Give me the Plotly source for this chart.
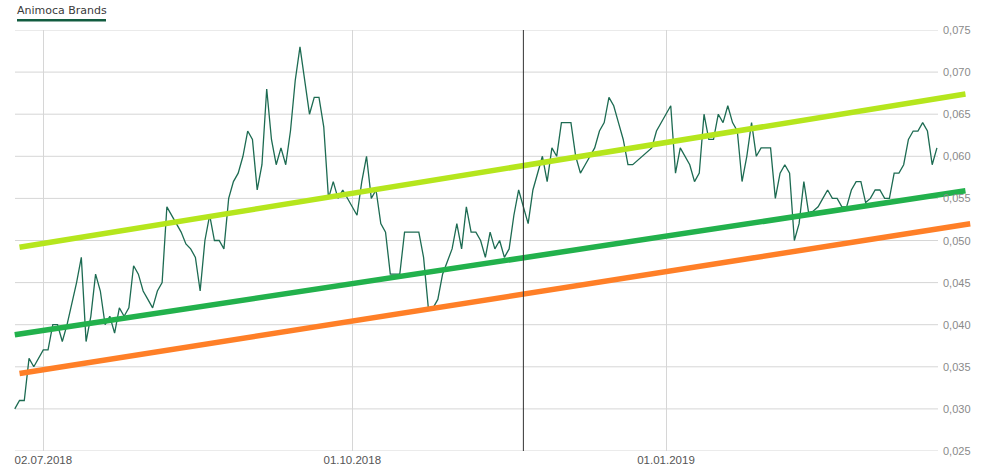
import plotly.graph_objects as go

# ---- data ----
dates = [
    "2018-06-22", "2018-06-25", "2018-06-26", "2018-06-27", "2018-06-28", "2018-06-29",
    "2018-07-02", "2018-07-03", "2018-07-04", "2018-07-05", "2018-07-06",
    "2018-07-09", "2018-07-10", "2018-07-11", "2018-07-12", "2018-07-13",
    "2018-07-16", "2018-07-17", "2018-07-18", "2018-07-19", "2018-07-20",
    "2018-07-23", "2018-07-24", "2018-07-25", "2018-07-26", "2018-07-27",
    "2018-07-30", "2018-07-31", "2018-08-01", "2018-08-02", "2018-08-03",
    "2018-08-06", "2018-08-07", "2018-08-08", "2018-08-09", "2018-08-10",
    "2018-08-13", "2018-08-14", "2018-08-15", "2018-08-16", "2018-08-17",
    "2018-08-20", "2018-08-21", "2018-08-22", "2018-08-23", "2018-08-24",
    "2018-08-27", "2018-08-28", "2018-08-29", "2018-08-30", "2018-08-31",
    "2018-09-03", "2018-09-04", "2018-09-05", "2018-09-06", "2018-09-07",
    "2018-09-10", "2018-09-11", "2018-09-12", "2018-09-13", "2018-09-14",
    "2018-09-17", "2018-09-18", "2018-09-19", "2018-09-20", "2018-09-21",
    "2018-09-24", "2018-09-25", "2018-09-26", "2018-09-27", "2018-09-28",
    "2018-10-01", "2018-10-02", "2018-10-03", "2018-10-04", "2018-10-05",
    "2018-10-08", "2018-10-09", "2018-10-10", "2018-10-11", "2018-10-12",
    "2018-10-15", "2018-10-16", "2018-10-17", "2018-10-18", "2018-10-19",
    "2018-10-22", "2018-10-23", "2018-10-24", "2018-10-25", "2018-10-26",
    "2018-10-29", "2018-10-30", "2018-10-31", "2018-11-01", "2018-11-02",
    "2018-11-05", "2018-11-06", "2018-11-07", "2018-11-08", "2018-11-09",
    "2018-11-12", "2018-11-13", "2018-11-14", "2018-11-15", "2018-11-16",
    "2018-11-19", "2018-11-20", "2018-11-21", "2018-11-22", "2018-11-23",
    "2018-11-26", "2018-11-27", "2018-11-28", "2018-11-29", "2018-11-30",
    "2018-12-03", "2018-12-04", "2018-12-05", "2018-12-06", "2018-12-07",
    "2018-12-10", "2018-12-11", "2018-12-12", "2018-12-13", "2018-12-14",
    "2018-12-17", "2018-12-18", "2018-12-19", "2018-12-20", "2018-12-21",
    "2018-12-27", "2018-12-28",
    "2019-01-02", "2019-01-03", "2019-01-04",
    "2019-01-07", "2019-01-08", "2019-01-09", "2019-01-10", "2019-01-11",
    "2019-01-14", "2019-01-15", "2019-01-16", "2019-01-17", "2019-01-18",
    "2019-01-21", "2019-01-22", "2019-01-23", "2019-01-24", "2019-01-25",
    "2019-01-28", "2019-01-29", "2019-01-30", "2019-01-31", "2019-02-01",
    "2019-02-04", "2019-02-05", "2019-02-06", "2019-02-07", "2019-02-08",
    "2019-02-11", "2019-02-12", "2019-02-13", "2019-02-14", "2019-02-15",
    "2019-02-18", "2019-02-19", "2019-02-20", "2019-02-21", "2019-02-22",
    "2019-02-25", "2019-02-26", "2019-02-27", "2019-02-28", "2019-03-01",
    "2019-03-04", "2019-03-05", "2019-03-06", "2019-03-07", "2019-03-08",
    "2019-03-11", "2019-03-12", "2019-03-13", "2019-03-14", "2019-03-15",
    "2019-03-18", "2019-03-19", "2019-03-20", "2019-03-21",
]

prices = [
    0.030, 0.031, 0.031, 0.036, 0.035, 0.036,
    0.037, 0.037, 0.040, 0.040, 0.038,
    0.040, 0.0425, 0.045, 0.048, 0.038,
    0.041, 0.046, 0.044, 0.040, 0.041,
    0.039, 0.042, 0.041, 0.042, 0.047,
    0.046, 0.044, 0.043, 0.042, 0.044,
    0.045, 0.054, 0.053, 0.052, 0.051,
    0.0496, 0.049, 0.048, 0.044, 0.050,
    0.053, 0.050, 0.050, 0.049, 0.055,
    0.057, 0.058, 0.060, 0.063, 0.062,
    0.056, 0.059, 0.068, 0.062, 0.059,
    0.061, 0.059, 0.063, 0.069, 0.073,
    0.069, 0.065, 0.067, 0.067, 0.0635,
    0.055, 0.057, 0.055, 0.056, 0.055,
    0.054, 0.053, 0.057, 0.060, 0.055,
    0.056, 0.052, 0.051, 0.046, 0.046,
    0.046, 0.051, 0.051, 0.051, 0.051,
    0.048, 0.042, 0.042, 0.043, 0.046,
    0.0475, 0.049, 0.052, 0.049, 0.054,
    0.051, 0.051, 0.050, 0.048, 0.051,
    0.049, 0.050, 0.048, 0.049, 0.053,
    0.056, 0.054, 0.052, 0.056, 0.058,
    0.060, 0.057, 0.061, 0.060, 0.064,
    0.064, 0.064, 0.060, 0.058, 0.059,
    0.060, 0.061, 0.063, 0.064, 0.067,
    0.066, 0.064, 0.062, 0.059, 0.059,
    0.061, 0.063,
    0.066, 0.058, 0.061,
    0.060, 0.059, 0.057, 0.058, 0.065,
    0.062, 0.062, 0.065, 0.064, 0.066,
    0.064, 0.063, 0.057, 0.060, 0.064,
    0.060, 0.061, 0.061, 0.061, 0.055,
    0.058, 0.059, 0.058, 0.050, 0.052,
    0.057, 0.0533, 0.0535, 0.054, 0.055,
    0.056, 0.055, 0.055, 0.054, 0.054,
    0.056, 0.057, 0.057, 0.0545, 0.055,
    0.056, 0.056, 0.055, 0.055, 0.058,
    0.058, 0.059, 0.062, 0.063, 0.063,
    0.064, 0.063, 0.059, 0.061,
]

# trend channel lines (start/end)
upper_dates = ["2018-06-25", "2019-03-29"]
upper_values = [0.0492, 0.0674]
middle_dates = ["2018-06-22", "2019-03-29"]
middle_values = [0.0388, 0.0559]
lower_dates = ["2018-06-25", "2019-04-01"]
lower_values = [0.0342, 0.0520]

marker_date = "2018-11-20"

y_ticks = [0.025, 0.030, 0.035, 0.040, 0.045, 0.050, 0.055, 0.060, 0.065, 0.070, 0.075]
y_ticktext = ["0,025", "0,030", "0,035", "0,040", "0,045", "0,050",
              "0,055", "0,060", "0,065", "0,070", "0,075"]
x_tickvals = ["2018-07-02", "2018-10-01", "2019-01-01"]
x_ticktext = ["02.07.2018", "01.10.2018", "01.01.2019"]
series_name = "Animoca Brands"

# ---- layout geometry (page pixels; body margin removed below) ----
W, H = 998, 468
ML, MR, MT, MB = 12, 26, 30, 17
PW = W - ML - MR
PH = H - MT - MB


def px_x(p):
    return (p - ML) / PW


def px_y(p):
    return (H - MB - p) / PH


fig = go.Figure()

fig.add_trace(go.Scatter(
    x=dates, y=prices, mode="lines",
    line=dict(color="#1d6b52", width=1.3),
    showlegend=False, hoverinfo="skip",
))
fig.add_trace(go.Scatter(
    x=upper_dates, y=upper_values, mode="lines",
    line=dict(color="#b5e61d", width=5.5),
    showlegend=False, hoverinfo="skip",
))
fig.add_trace(go.Scatter(
    x=middle_dates, y=middle_values, mode="lines",
    line=dict(color="#22b14c", width=5.5),
    showlegend=False, hoverinfo="skip",
))
fig.add_trace(go.Scatter(
    x=lower_dates, y=lower_values, mode="lines",
    line=dict(color="#ff7f27", width=5.5),
    showlegend=False, hoverinfo="skip",
))

shapes = []
for v in y_ticks:
    shapes.append(dict(
        type="line", xref="paper", yref="y",
        x0=px_x(15), x1=px_x(938), y0=v, y1=v,
        line=dict(color="#d6d6d6", width=1), layer="below",
    ))
shapes.append(dict(
    type="line", xref="x", yref="paper",
    x0=marker_date, x1=marker_date, y0=0, y1=1,
    line=dict(color="#333333", width=1), layer="above",
))
shapes.append(dict(
    type="rect", xref="paper", yref="paper",
    x0=px_x(17), x1=px_x(106), y0=px_y(21.5), y1=px_y(19),
    line=dict(width=0), fillcolor="#125c40",
))

annotations = [dict(
    text=series_name, xref="paper", yref="paper",
    x=px_x(15), y=px_y(10.5), xanchor="left", yanchor="middle",
    showarrow=False,
    font=dict(family="DejaVu Sans", size=11, color="#3a3a3a"),
)]
for v, t in zip(y_ticks, y_ticktext):
    annotations.append(dict(
        text=t, xref="paper", yref="y",
        x=px_x(941), y=v, xanchor="left", yanchor="middle",
        showarrow=False,
        font=dict(family="Liberation Sans", size=11, color="#8a8a8a"),
    ))

fig.update_layout(
    width=W, height=H,
    margin=dict(l=ML, r=MR, t=MT, b=MB, pad=0, autoexpand=False),
    paper_bgcolor="white", plot_bgcolor="white",
    showlegend=False,
    hovermode=False,
    shapes=shapes,
    annotations=annotations,
    xaxis=dict(
        type="date",
        range=["2018-06-21 10:00", "2019-04-01 09:00"],
        rangebreaks=[dict(bounds=["sat", "mon"])],
        tickvals=x_tickvals, ticktext=x_ticktext,
        showgrid=True, gridcolor="#d6d6d6", gridwidth=1,
        showline=False, zeroline=False, ticks="",
        tickfont=dict(family="Liberation Sans", size=11.5, color="#555555"),
        automargin=False,
        fixedrange=True,
    ),
    yaxis=dict(
        range=[0.025, 0.075],
        showticklabels=False,
        showgrid=False, zeroline=False, showline=False, ticks="",
        automargin=False,
        fixedrange=True,
    ),
)

fig.write_html(
    "out.html",
    config={"displayModeBar": False, "staticPlot": True},
    post_script="document.body.style.margin='0';document.body.style.overflow='hidden';",
)
